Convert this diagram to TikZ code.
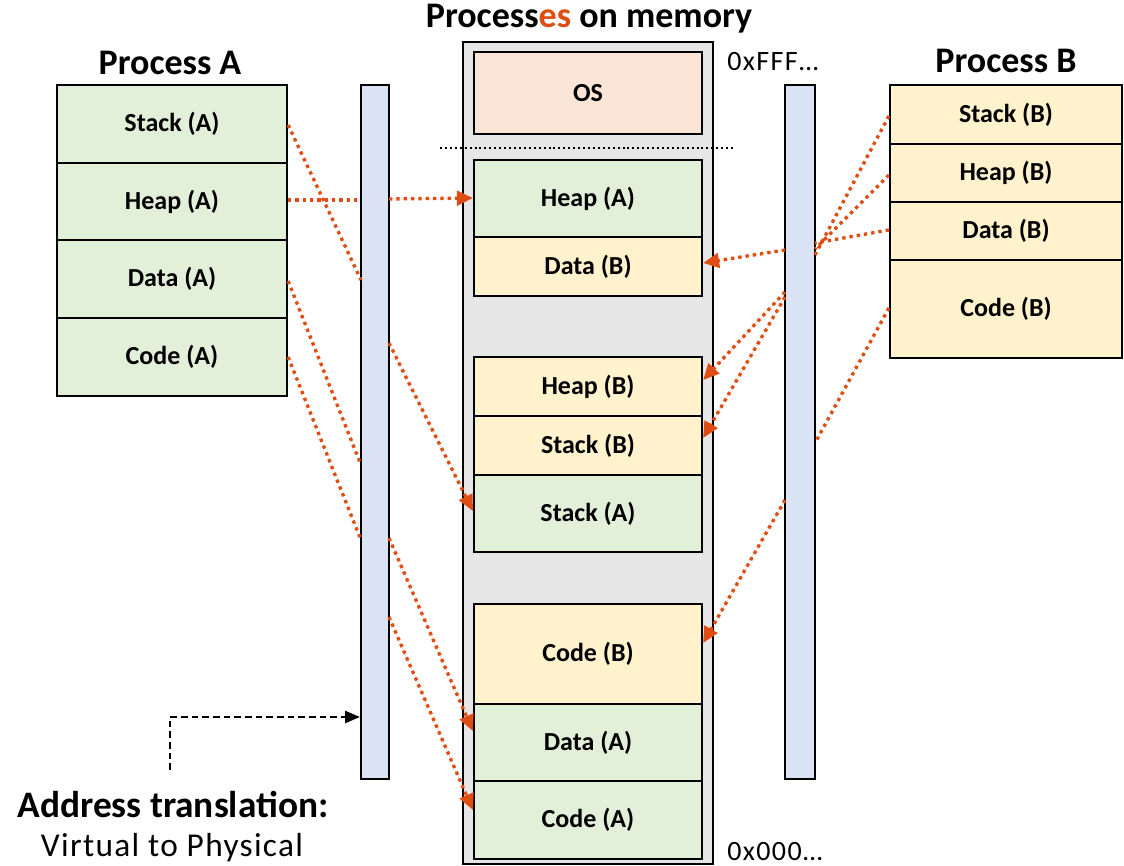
\documentclass[tikz,border=0pt]{standalone}
\usepackage{fontspec}
\setmainfont{Carlito}
\usetikzlibrary{arrows.meta}

\definecolor{fillA}{HTML}{E2F0D9}
\definecolor{fillB}{HTML}{FFF2CC}
\definecolor{fillOS}{HTML}{FBE5D6}
\definecolor{fillBar}{HTML}{DAE3F3}
\definecolor{fillMem}{HTML}{E7E6E6}
\definecolor{linkcol}{RGB}{222,78,18}

% \blk{name}{x1}{y1}{x2}{y2}{fill}{label}: a box given by its corners (in px)
\newcommand\blk[7]{%
  \node[segbox, fill=#6,
        minimum width={(#4-#2)*0.75pt}, minimum height={(#5-#3)*0.75pt}]
        (#1) at ({(#2+#4)/2},{(#3+#5)/2}) {#7};}

\begin{document}
\begin{tikzpicture}[x=0.75pt,y=-0.75pt,
  segbox/.style={draw=black, line width=1.7pt, inner sep=0pt,
    font=\fontsize{19.5}{22}\selectfont\bfseries},
  barbox/.style={draw=black, line width=1.7pt, fill=fillBar, inner sep=0pt},
  title/.style={font=\fontsize{27}{30}\selectfont\bfseries, inner sep=0pt},
  addr/.style={font=\fontsize{21}{24}\selectfont\addfontfeature{LetterSpace=5}, inner sep=0pt, anchor=west},
  translink/.style={draw=linkcol, line width=2.5pt, dash pattern=on 2.5pt off 3pt},
  translarrow/.style={translink, -{Triangle[length=12pt,width=11pt]}, fill=linkcol}
]
\useasboundingbox (0,0) rectangle (1124,866);

% physical memory column
\node[draw=black, line width=1.5pt, fill=fillMem, inner sep=0pt,
      minimum width={250*0.75pt}, minimum height={822*0.75pt}] (mem) at (588,453) {};
\blk{mOS}{474}{52}{702}{134}{fillOS}{OS}
\draw[line width=1.5pt, dash pattern=on 1.5pt off 2.2pt] (440,148) coordinate (sepL) -- (735,148) coordinate (sepR);
\blk{mHA}{474}{160}{702}{237}{fillA}{Heap (A)}
\blk{mDB}{474}{237}{702}{296}{fillB}{Data (B)}
\blk{mHB}{474}{357}{702}{416}{fillB}{Heap (B)}
\blk{mSB}{474}{416}{702}{475}{fillB}{Stack (B)}
\blk{mSA}{474}{475}{702}{552}{fillA}{Stack (A)}
\blk{mCB}{474}{604}{702}{704}{fillB}{Code (B)}
\blk{mDA}{474}{704}{702}{781}{fillA}{Data (A)}
\blk{mCA}{474}{781}{702}{859}{fillA}{Code (A)}

% process A address space
\blk{pA1}{57}{85}{287}{163}{fillA}{Stack (A)}
\blk{pA2}{57}{163}{287}{240}{fillA}{Heap (A)}
\blk{pA3}{57}{240}{287}{318}{fillA}{Data (A)}
\blk{pA4}{57}{318}{287}{396}{fillA}{Code (A)}

% process B address space
\blk{pB1}{890}{85}{1122}{144}{fillB}{Stack (B)}
\blk{pB2}{890}{144}{1122}{202}{fillB}{Heap (B)}
\blk{pB3}{890}{202}{1122}{260}{fillB}{Data (B)}
\blk{pB4}{890}{260}{1122}{358}{fillB}{Code (B)}

% translation bars
\node[barbox, minimum width={28*0.75pt}, minimum height={694*0.75pt}] (lbar) at (375,432) {};
\node[barbox, minimum width={30*0.75pt}, minimum height={694*0.75pt}] (rbar) at (800,432) {};

% titles and address labels
\node[title] (tA) at (170,63) {Process A};
\node[title] (tM) at (589,19) {Process\textcolor{linkcol}{es} on memory};
\node[title] (tB) at (1006,61) {Process B};
\node[addr] (hi) at (727,62) {0xFFF…};
\node[addr] (lo) at (727,852) {0x000…};
\node[font=\fontsize{28}{31}\selectfont\bfseries, inner sep=0pt] (atr) at (173,805) {Address translation:};
\node[font=\fontsize{25}{28}\selectfont\addfontfeature{LetterSpace=4}, inner sep=0pt] (v2p) at (172,848) {Virtual to Physical};

% points where the mappings meet the bars
\coordinate (la1) at (361,280);
\coordinate (la2) at (361,200);
\coordinate (la3) at (361,465);
\coordinate (la4) at (361,540);
\coordinate (lo2) at (389,199);
\coordinate (lo1) at (389,343);
\coordinate (lo3) at (389,538);
\coordinate (lo4) at (389,617);
\coordinate (rb1) at (815,255);
\coordinate (rb2) at (815,249);
\coordinate (rb3) at (815,243);
\coordinate (rb4) at (815,443);
\coordinate (ro3) at (785,250);
\coordinate (ro2a) at (785,292);
\coordinate (ro2b) at (785,297);
\coordinate (ro4) at (785,500);

% process A mappings
\draw[translink] (pA1.east |- 0,125) -- (la1);
\draw[translink] (pA2.east |- 0,200) -- (la2);
\draw[translink] (pA3.east |- 0,281) -- (la3);
\draw[translink] (pA4.east |- 0,357) -- (la4);
\draw[translarrow] (lo2) -- (mHA.west |- 0,198);
\draw[translarrow] (lo1) -- (mSA.west |- 0,511);
\draw[translarrow] (lo3) -- (mDA.west |- 0,731);
\draw[translarrow] (lo4) -- (mCA.west |- 0,810);

% process B mappings
\draw[translink] (pB1.west |- 0,116) -- (rb1);
\draw[translink] (pB2.west |- 0,175) -- (rb2);
\draw[translink] (pB3.west |- 0,230) -- (rb3);
\draw[translink] (pB4.west |- 0,308) -- (rb4);
\draw[translarrow] (ro3) -- (mDB.east |- 0,263);
\draw[translarrow] (ro2a) -- (mHB.east |- 0,380);
\draw[translarrow] (ro2b) -- (mSB.east |- 0,438);
\draw[translarrow] (ro4) -- (mCB.east |- 0,643);

% pointer from the caption to the translation bar
\coordinate (capTop) at (170,770);
\draw[line width=1.5pt, dash pattern=on 5pt off 3pt, -{Triangle[length=11pt,width=9pt]}]
  (capTop) |- (lbar.west |- 0,717);
\end{tikzpicture}
\end{document}
